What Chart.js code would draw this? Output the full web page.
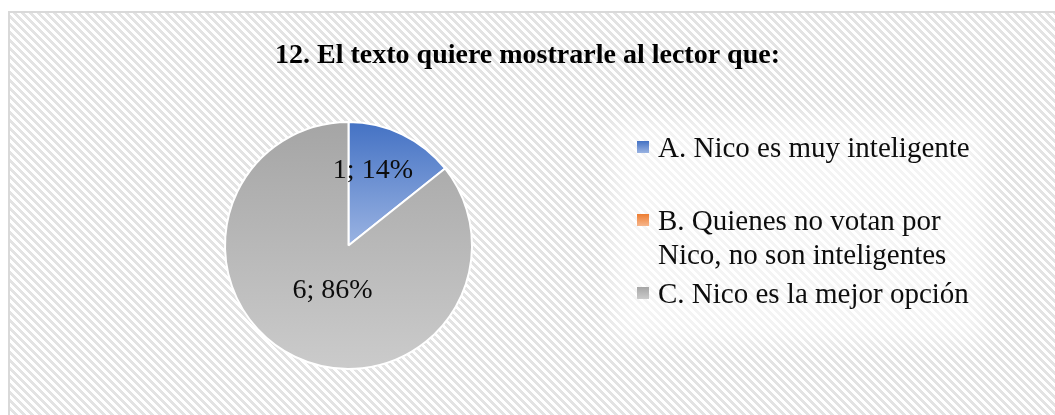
<!DOCTYPE html>
<html><head><meta charset="utf-8">
<script src="https://cdn.jsdelivr.net/npm/chart.js@4.4.0/dist/chart.umd.min.js"></script>
<style>html,body{margin:0;padding:0;background:#fff;} canvas{display:block;}</style>
</head><body>
<canvas id="c" width="1055" height="415"></canvas>
<script>
// ---- data ----
const chartTitle = '12. El texto quiere mostrarle al lector que:';
const categories = ['A. Nico es muy inteligente', 'B. Quienes no votan por Nico, no son inteligentes', 'C. Nico es la mejor opción'];
const counts = [1, 0, 6];
const topColors = ['#4472c4', '#ed7d31', '#a5a5a5'];
const bottomColors = ['#9ab3e2', '#f6b68c', '#cbcbcb'];

// ---- style ----
const FONT = '"Liberation Serif", "Times New Roman", serif';
const labelAngleFrac = [0.35, 0.5, 0.479];
const labelRadiusFrac = [0.64, 0.5, 0.39];

function makePattern(ctx) {
  const t = document.createElement('canvas');
  t.width = 8; t.height = 8;
  const c = t.getContext('2d');
  c.fillStyle = '#ffffff'; c.fillRect(0, 0, 8, 8);
  c.fillStyle = '#e3e3e3';
  for (let y = 0; y < 8; y++) for (let x = 0; x < 8; x++) {
    if ((((x - y) % 8) + 8) % 8 < 4) c.fillRect(x, y, 1, 1);
  }
  return ctx.createPattern(t, 'repeat');
}

function wrap(ctx, text, maxW) {
  const words = text.split(' ');
  const lines = []; let cur = '';
  for (const w of words) {
    const test = cur ? cur + ' ' + w : w;
    if (ctx.measureText(test).width > maxW && cur) { lines.push(cur); cur = w; }
    else cur = test;
  }
  if (cur) lines.push(cur);
  return lines;
}

const deco = {
  id: 'deco',
  beforeDraw(chart) {
    const ctx = chart.ctx;
    ctx.save();
    ctx.fillStyle = '#fff';
    ctx.fillRect(0, 0, chart.width, chart.height);
    ctx.fillStyle = makePattern(ctx);
    ctx.fillRect(9, 12, chart.width, chart.height);
    ctx.strokeStyle = '#d9d9d9';
    ctx.lineWidth = 2;
    ctx.beginPath();
    ctx.moveTo(9, chart.height + 5); ctx.lineTo(9, 12); ctx.lineTo(chart.width + 5, 12);
    ctx.stroke();
    // legend soft white box
    ctx.filter = 'blur(12px)';
    ctx.fillStyle = 'rgba(255,255,255,0.6)';
    ctx.fillRect(612, 120, 374, 222);
    ctx.filter = 'none';
    ctx.restore();
  },
  beforeDatasetsDraw(chart) {
    const meta = chart.getDatasetMeta(0);
    const ctx = chart.ctx;
    meta.data.forEach((arc, i) => {
      const p = arc.getProps(['x', 'y', 'startAngle', 'endAngle', 'outerRadius']);
      const ys = [p.y, p.y + Math.sin(p.startAngle) * p.outerRadius, p.y + Math.sin(p.endAngle) * p.outerRadius];
      for (let k = -4; k <= 4; k++) {
        const a = -Math.PI / 2 + k * Math.PI / 2;
        if (a >= p.startAngle && a <= p.endAngle) ys.push(p.y + Math.sin(a) * p.outerRadius);
      }
      const y0 = Math.min(...ys), y1 = Math.max(...ys);
      const g = ctx.createLinearGradient(0, y0, 0, Math.max(y1, y0 + 1));
      g.addColorStop(0, topColors[i]);
      g.addColorStop(1, bottomColors[i]);
      arc.options.backgroundColor = g;
    });
  },
  afterDatasetsDraw(chart) {
    const ctx = chart.ctx;
    const meta = chart.getDatasetMeta(0);
    const total = counts.reduce((a, b) => a + b, 0);
    ctx.save();
    ctx.font = '28px ' + FONT;
    ctx.fillStyle = '#0d0d0d';
    ctx.textAlign = 'center';
    ctx.textBaseline = 'middle';
    meta.data.forEach((arc, i) => {
      if (!counts[i]) return;
      const p = arc.getProps(['x', 'y', 'startAngle', 'endAngle', 'outerRadius']);
      const a = p.startAngle + (p.endAngle - p.startAngle) * labelAngleFrac[i];
      const r = p.outerRadius * labelRadiusFrac[i];
      const pct = Math.round(counts[i] / total * 100);
      ctx.fillText(counts[i] + '; ' + pct + '%', p.x + Math.cos(a) * r, p.y + Math.sin(a) * r);
    });
    ctx.restore();
  },
  afterDraw(chart) {
    const ctx = chart.ctx;
    ctx.save();
    // title
    ctx.font = 'bold 28px ' + FONT;
    ctx.fillStyle = '#000';
    ctx.textAlign = 'center';
    ctx.textBaseline = 'alphabetic';
    ctx.fillText(chartTitle, chart.width / 2, 63);
    // legend
    ctx.font = '29px ' + FONT;
    ctx.textAlign = 'left';
    categories.forEach((c, i) => {
      const base = 157 + i * 73;
      const g = ctx.createLinearGradient(0, base - 16, 0, base - 4);
      g.addColorStop(0, topColors[i]);
      g.addColorStop(1, bottomColors[i]);
      ctx.fillStyle = g;
      ctx.fillRect(637, base - 16, 12, 12);
      ctx.fillStyle = '#0d0d0d';
      wrap(ctx, c, 335).forEach((ln, j) => ctx.fillText(ln, 658, base + j * 34));
    });
    ctx.restore();
  }
};

new Chart(document.getElementById('c'), {
  type: 'pie',
  data: {
    labels: categories,
    datasets: [{
      data: counts,
      backgroundColor: topColors,
      borderColor: '#ffffff',
      borderWidth: 2,
      radius: 123.5
    }]
  },
  options: {
    responsive: false,
    animation: false,
    layout: { padding: { left: 225, right: 583, top: 122, bottom: 46 } },
    plugins: { legend: { display: false }, tooltip: { enabled: false }, title: { display: false } }
  },
  plugins: [deco]
});
</script>
</body></html>
